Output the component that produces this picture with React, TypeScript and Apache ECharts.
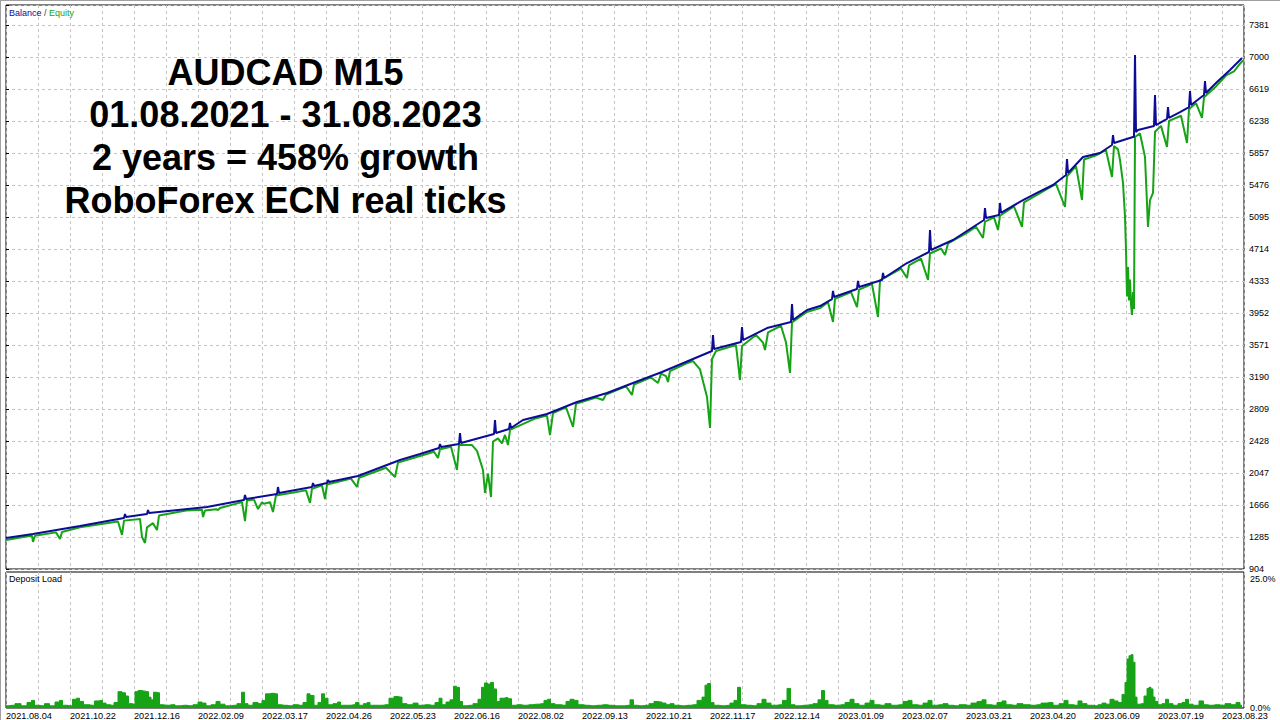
import React, { useEffect, useRef } from "react";
import * as echarts from "echarts";

// ---------- DATA ----------
const titleLines = [
  "AUDCAD M15",
  "01.08.2021 - 31.08.2023",
  "2 years = 458% growth",
  "RoboForex ECN real ticks",
];

const dateLabels = [
  "2021.08.04", "2021.10.22", "2021.12.16", "2022.02.09", "2022.03.17",
  "2022.04.26", "2022.05.23", "2022.06.16", "2022.08.02", "2022.09.13",
  "2022.10.21", "2022.11.17", "2022.12.14", "2023.01.09", "2023.02.07",
  "2023.03.21", "2023.04.20", "2023.06.09", "2023.07.19", "2023.08.23",
];

// [trade #, balance]
const balance: [number, number][] = [
  [0, 1273], [27, 1321], [74, 1416], [118, 1511], [119, 1559], [120, 1523],
  [141, 1559], [142, 1607], [143, 1571], [201, 1642], [238, 1725], [239, 1785], [240, 1737],
  [271, 1797], [272, 1880], [273, 1809], [306, 1880], [307, 1928], [308, 1892],
  [321, 1928], [322, 1964], [323, 1940], [352, 2011], [394, 2202], [414, 2273],
  [433, 2345], [434, 2392], [435, 2357], [453, 2392], [454, 2523], [455, 2404],
  [488, 2511], [489, 2678], [490, 2523], [503, 2571], [504, 2642], [505, 2583],
  [517, 2678], [541, 2749], [571, 2892], [601, 2999], [627, 3119], [656, 3249],
  [687, 3404], [706, 3499], [707, 3690], [708, 3523], [735, 3607], [736, 3785], [737, 3630],
  [761, 3773], [785, 3845], [786, 4059], [787, 3869], [801, 3988], [814, 4035],
  [826, 4118], [827, 4214], [828, 4142], [851, 4238], [852, 4333], [853, 4261],
  [876, 4345], [877, 4428], [878, 4369], [901, 4547], [923, 4678], [924, 4940], [925, 4702],
  [947, 4821], [978, 5059], [979, 5202], [980, 5083], [993, 5119], [994, 5262], [995, 5143],
  [1017, 5297], [1031, 5381], [1047, 5476], [1060, 5595], [1061, 5785], [1062, 5619],
  [1077, 5809], [1094, 5857], [1106, 5952], [1107, 6071], [1108, 5976], [1127, 6047],
  [1128, 6047], [1129, 7024], [1130, 6107], [1132, 6131], [1148, 6178], [1149, 6547], [1150, 6190],
  [1161, 6262], [1162, 6404], [1163, 6274], [1174, 6345], [1183, 6404], [1184, 6595], [1185, 6428],
  [1198, 6547], [1199, 6714], [1200, 6571], [1211, 6702], [1224, 6845], [1236, 6988],
];

// [trade #, equity]
const equity: [number, number][] = [
  [0, 1250], [20, 1290], [26, 1300], [27, 1226], [29, 1300], [50, 1340], [54, 1261], [56, 1345],
  [74, 1400], [112, 1470], [116, 1309], [118, 1480], [134, 1500], [136, 1285], [139, 1214],
  [141, 1400], [147, 1450], [151, 1368], [153, 1540], [180, 1600], [196, 1610], [197, 1523],
  [199, 1600], [210, 1615], [212, 1606], [214, 1630], [236, 1700], [239, 1475], [241, 1720],
  [248, 1730], [252, 1618], [256, 1700], [258, 1680], [264, 1700], [267, 1583], [270, 1780],
  [300, 1840], [304, 1690], [306, 1860], [316, 1900], [319, 1737], [321, 1910], [345, 1980],
  [351, 1880], [353, 1990], [380, 2110], [389, 1999], [392, 2170], [414, 2250], [428, 2300],
  [432, 2226], [434, 2330], [445, 2360], [451, 2083], [453, 2380], [466, 2380], [471, 2310],
  [477, 2083], [479, 1809], [482, 2040], [485, 1761], [487, 2420], [492, 2460], [496, 2400],
  [499, 2500], [502, 2380], [504, 2560], [530, 2700], [541, 2730], [544, 2499], [547, 2760],
  [560, 2830], [567, 2595], [570, 2870], [590, 2945], [597, 2916], [600, 2980], [620, 3080],
  [626, 2976], [628, 3100], [645, 3185], [652, 3119], [655, 3230], [660, 3200], [662, 3130],
  [664, 3260], [680, 3350], [687, 3380], [694, 3280], [701, 2952], [704, 2583], [706, 3404],
  [710, 3500], [730, 3570], [734, 3154], [736, 3560], [750, 3690], [757, 3600], [759, 3511],
  [762, 3720], [775, 3800], [780, 3600], [784, 3238], [786, 3840], [800, 3960], [814, 4010],
  [822, 4080], [827, 3845], [829, 4120], [845, 4200], [851, 4023], [853, 4230], [866, 4295],
  [872, 3904], [874, 4340], [895, 4480], [901, 4369], [903, 4520], [915, 4600], [922, 4345],
  [924, 4660], [935, 4720], [939, 4642], [942, 4780], [960, 4900], [970, 4980], [977, 4845],
  [979, 5040], [988, 5090], [992, 4940], [994, 5110], [1008, 5220], [1016, 4976], [1018, 5270],
  [1040, 5420], [1050, 5490], [1059, 5214], [1061, 5580], [1070, 5700], [1076, 5297], [1078, 5780],
  [1090, 5830], [1100, 5890], [1106, 5571], [1108, 5940], [1112, 5900], [1114, 5774], [1117, 5500],
  [1119, 5100], [1120, 4700], [1121, 4150], [1122, 4500], [1123, 4100], [1124, 4350], [1125, 4050],
  [1126, 3928], [1127, 4200], [1128, 4000], [1129, 6047], [1134, 6090], [1139, 5809], [1142, 4976],
  [1144, 5297], [1147, 5381], [1149, 6110], [1155, 6180], [1161, 5928], [1163, 6240], [1175, 6300],
  [1181, 5976], [1183, 6380], [1190, 6450], [1196, 6274], [1198, 6520], [1210, 6650], [1220, 6780],
  [1228, 6830], [1234, 6920], [1237, 6960],
];

// [trade #, deposit load %]
const depositLoad: [number, number][] = [
  [0, 0.4], [6, 0.5], [12, 0.8], [18, 0.4], [24, 1.0], [27, 1.4], [30, 0.5], [36, 0.4], [41, 0.8],
  [46, 0.4], [52, 1.1], [55, 1.4], [58, 0.5], [64, 0.4], [69, 1.6], [72, 1.8], [75, 1.2], [80, 0.6],
  [86, 0.5], [91, 1.3], [95, 1.4], [98, 0.9], [102, 0.6], [106, 0.5], [110, 1.0], [114, 3.0],
  [118, 2.8], [121, 2.2], [124, 0.8], [128, 0.7], [130, 3.0], [134, 3.2], [138, 3.1], [141, 3.0],
  [144, 2.0], [146, 1.5], [149, 2.9], [152, 2.8], [155, 0.6], [160, 0.5], [166, 0.6], [172, 0.4],
  [178, 0.5], [184, 0.4], [190, 0.6], [194, 1.1], [198, 0.9], [202, 0.4], [208, 0.6], [212, 1.2],
  [216, 0.7], [222, 0.4], [228, 0.5], [234, 0.8], [237, 2.9], [240, 0.8], [244, 0.5], [250, 1.0],
  [254, 0.8], [258, 1.4], [261, 2.6], [266, 2.7], [270, 2.6], [273, 0.6], [278, 0.5], [284, 0.4],
  [290, 0.6], [294, 0.5], [300, 1.0], [302, 2.6], [306, 2.3], [310, 0.5], [314, 1.0], [317, 2.6],
  [320, 1.8], [324, 0.6], [330, 0.8], [333, 1.1], [336, 0.5], [342, 0.5], [348, 0.6], [351, 1.0],
  [355, 0.5], [360, 0.8], [362, 1.0], [366, 0.5], [374, 0.5], [380, 0.6], [386, 1.8], [390, 2.1],
  [394, 2.0], [398, 0.8], [404, 0.6], [410, 0.9], [414, 0.5], [420, 0.6], [426, 0.5], [432, 1.0],
  [434, 1.8], [438, 0.6], [442, 1.1], [446, 1.5], [449, 4.0], [452, 3.8], [455, 1.2], [458, 0.4],
  [464, 0.5], [470, 0.8], [474, 1.6], [477, 3.8], [480, 4.6], [483, 4.4], [486, 4.7], [489, 3.5],
  [492, 1.2], [496, 1.8], [500, 1.9], [504, 1.7], [507, 0.5], [512, 0.6], [518, 0.5], [524, 0.6],
  [530, 0.7], [536, 0.8], [540, 1.4], [543, 1.6], [546, 0.8], [552, 0.6], [558, 0.5], [562, 1.2],
  [566, 1.6], [570, 1.4], [574, 0.6], [580, 0.5], [586, 0.4], [592, 0.5], [598, 0.6], [604, 0.5],
  [610, 0.4], [616, 0.4], [622, 0.5], [626, 1.5], [629, 0.5], [634, 0.4], [640, 0.5], [646, 0.8],
  [650, 1.2], [654, 1.1], [658, 0.9], [662, 0.6], [666, 0.8], [670, 0.5], [676, 0.4], [682, 0.5],
  [688, 0.6], [694, 1.4], [698, 2.0], [700, 4.2], [703, 4.5], [706, 1.0], [710, 0.5], [716, 0.4],
  [722, 0.5], [726, 0.9], [730, 1.4], [733, 3.8], [736, 0.6], [742, 0.5], [748, 0.4], [754, 0.8],
  [758, 1.6], [762, 0.9], [768, 0.5], [774, 0.6], [779, 1.4], [783, 3.6], [786, 0.6], [792, 0.4],
  [798, 0.5], [804, 0.6], [810, 0.8], [814, 1.5], [817, 3.2], [820, 1.4], [824, 0.6], [830, 0.5],
  [836, 0.6], [842, 1.0], [846, 1.6], [850, 0.8], [856, 0.5], [862, 0.9], [866, 1.4], [870, 0.6],
  [876, 0.5], [882, 0.8], [888, 0.5], [894, 0.6], [900, 1.2], [904, 1.4], [908, 0.6], [914, 0.5],
  [920, 0.9], [924, 1.4], [928, 0.5], [934, 0.6], [940, 0.8], [944, 0.5], [950, 0.4], [956, 0.6],
  [962, 0.5], [968, 0.9], [974, 1.2], [978, 1.5], [982, 0.6], [988, 0.5], [994, 1.0], [998, 1.3],
  [1002, 0.6], [1008, 0.5], [1014, 0.8], [1020, 0.6], [1026, 0.5], [1032, 0.6], [1038, 0.9],
  [1044, 1.0], [1050, 0.5], [1056, 0.8], [1060, 1.4], [1064, 0.6], [1070, 0.5], [1074, 1.3],
  [1078, 0.8], [1084, 0.5], [1090, 0.4], [1094, 0.6], [1098, 0.9], [1102, 0.7], [1106, 1.6],
  [1110, 1.3], [1114, 1.0], [1118, 2.5], [1120, 4.7], [1122, 9.0], [1124, 9.6], [1126, 9.8],
  [1128, 8.4], [1130, 2.0], [1132, 0.7], [1136, 0.8], [1140, 2.2], [1142, 3.6], [1144, 3.8],
  [1146, 3.5], [1148, 2.0], [1150, 1.2], [1154, 0.6], [1158, 0.8], [1161, 1.6], [1164, 0.8],
  [1170, 0.5], [1174, 0.8], [1178, 1.0], [1181, 1.6], [1184, 0.7], [1190, 0.5], [1196, 1.3],
  [1199, 0.6], [1204, 0.5], [1210, 0.6], [1216, 0.5], [1222, 0.8], [1228, 0.6], [1232, 1.0],
  [1236, 0.5],
];

// axis settings
const yMin = 904;
const yStep = 381;
const yMax = 7619;
const loadMax = 25;
const tradeMax = 1238;
const gridStep = 32;
const labelStep = 64;

// ---------- CHART ----------
const FONT = "'Liberation Sans', Arial, sans-serif";
const BLUE = "#0c0c96";
const GREEN = "#16a316";

export default function App() {
  const ref = useRef<HTMLDivElement>(null);

  useEffect(() => {
    if (!ref.current) return;
    const chart = echarts.init(ref.current, undefined, { renderer: "svg" });

    const gridLine = {
      show: true,
      lineStyle: { color: "#c4c4c4", type: [3, 3] as any, width: 1 },
    };

    const titleGraphics = titleLines.map((t, i) => ({
      type: "text",
      x: 285.5,
      y: 72 + i * 42.7,
      z: 10,
      style: {
        text: t,
        fontSize: 36,
        fontWeight: "bold",
        fontFamily: FONT,
        fill: "#000",
        align: "center",
        verticalAlign: "middle",
        textAlign: "center",
        textVerticalAlign: "middle",
      },
    }));

    const option: any = {
      animation: false,
      backgroundColor: "#ffffff",
      grid: [
        { left: 6, top: 5, width: 1238, height: 564, show: true, borderColor: "#000", borderWidth: 1, backgroundColor: "#fff" },
        { left: 6, top: 572, width: 1238, height: 137, show: true, borderColor: "#000", borderWidth: 1, backgroundColor: "#fff" },
      ],
      xAxis: [
        {
          type: "value", gridIndex: 0, min: 0, max: tradeMax, interval: gridStep,
          axisLine: { show: false }, axisTick: { show: false }, axisLabel: { show: false },
          splitLine: gridLine,
        },
        {
          type: "value", gridIndex: 1, min: 0, max: tradeMax, interval: gridStep,
          axisLine: { show: false }, axisTick: { show: false },
          axisLabel: {
            show: true,
            formatter: (v: number) => (v % labelStep === 0 ? dateLabels[v / labelStep] ?? "" : ""),
            align: "left",
            margin: 3,
            fontSize: 9.2,
            fontFamily: FONT,
            color: "#000",
            hideOverlap: false,
          },
          splitLine: gridLine,
        },
      ],
      yAxis: [
        {
          type: "value", gridIndex: 0, position: "right", min: yMin, max: yMax, interval: yStep,
          axisLine: { show: false },
          axisTick: { show: true, length: 3, lineStyle: { color: "#000" } },
          axisLabel: {
            formatter: (v: number) => ((v - yMin) % yStep === 0 ? String(v) : ""),
            fontSize: 9, fontFamily: FONT, color: "#000", margin: 5,
          },
          splitLine: gridLine,
        },
        {
          type: "value", gridIndex: 1, position: "right", min: 0, max: loadMax, interval: loadMax,
          axisLine: { show: false }, axisTick: { show: false },
          axisLabel: {
            formatter: (v: number) => (v === loadMax ? "{t|" + v.toFixed(1) + "%}" : "{b|" + v.toFixed(1) + "%}"),
            fontSize: 9, fontFamily: FONT, color: "#000", margin: 6,
            rich: {
              t: { fontSize: 9, fontFamily: FONT, color: "#000", padding: [13, 0, 0, 0] },
              b: { fontSize: 9, fontFamily: FONT, color: "#000", padding: [0, 0, 0, 0] },
            },
          },
          splitLine: { show: false },
        },
      ],
      series: [
        {
          name: "Equity", type: "line", xAxisIndex: 0, yAxisIndex: 0, data: equity,
          symbol: "none", showSymbol: false, z: 2,
          lineStyle: { color: GREEN, width: 2 },
        },
        {
          name: "Balance", type: "line", xAxisIndex: 0, yAxisIndex: 0, data: balance,
          symbol: "none", showSymbol: false, z: 3,
          lineStyle: { color: BLUE, width: 2 },
        },
        {
          name: "Deposit Load", type: "line", xAxisIndex: 1, yAxisIndex: 1, data: depositLoad,
          symbol: "none", showSymbol: false, step: "middle",
          lineStyle: { color: GREEN, width: 1 },
          areaStyle: { color: GREEN, opacity: 1 },
        },
      ],
      graphic: [
        { type: "line", shape: { x1: 0.5, y1: 0, x2: 0.5, y2: 720 }, style: { stroke: "#a0a0a0", lineWidth: 1 } },
        { type: "line", shape: { x1: 0, y1: 0.5, x2: 1280, y2: 0.5 }, style: { stroke: "#a0a0a0", lineWidth: 1 } },
        {
          type: "text", x: 9, y: 13, z: 10,
          style: {
            text: "{b|Balance} {s|/} {e|Equity}",
            fontSize: 9, fontFamily: FONT,
            verticalAlign: "middle", textVerticalAlign: "middle",
            rich: {
              b: { fill: BLUE, color: BLUE, fontSize: 9, fontFamily: FONT },
              s: { fill: "#404040", color: "#404040", fontSize: 9, fontFamily: FONT },
              e: { fill: GREEN, color: GREEN, fontSize: 9, fontFamily: FONT },
            },
          },
        },
        {
          type: "text", x: 9, y: 579, z: 10,
          style: {
            text: "Deposit Load", fontSize: 9, fontFamily: FONT, fill: "#000",
            verticalAlign: "middle", textVerticalAlign: "middle",
          },
        },
        ...titleGraphics,
      ],
    };

    chart.setOption(option);
    return () => chart.dispose();
  }, []);

  return (
    <div
      ref={ref}
      style={{ position: "absolute", left: 0, top: 0, width: 1280, height: 720, background: "#fff" }}
    />
  );
}
